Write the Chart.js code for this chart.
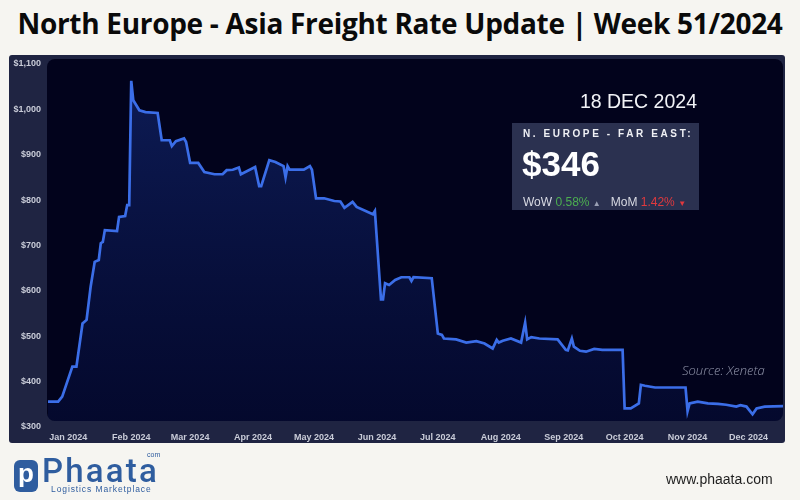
<!DOCTYPE html>
<html>
<head>
<meta charset="utf-8">
<script src="https://cdn.jsdelivr.net/npm/chart.js@4.4.1/dist/chart.umd.min.js"></script>
<style>
  html, body { margin: 0; padding: 0; }
  body { width: 800px; height: 500px; background: #f6f5f1; position: relative; overflow: hidden; font-family: 'Liberation Sans', Arial, sans-serif; }
  #title { position: absolute; left: 0; top: 4px; width: 800px; text-align: center; font-family: 'Open Sans', sans-serif; font-weight: 700; font-size: 28px; color: #0a0a0a; letter-spacing: -0.3px; white-space: nowrap; }
  #panel { position: absolute; left: 9px; top: 55px; width: 776px; height: 388px; background: #1f2442; border-radius: 3px; }
  #wrap { position: absolute; left: 0; top: 0; width: 800px; height: 500px; }
  #date { position: absolute; right: 103px; top: 90px; color: #f2f3f7; font-size: 19.5px; }
  #box { position: absolute; left: 512px; top: 123px; width: 187px; height: 87px; background: #2b3150; }
  #route { position: absolute; left: 11px; top: 5px; color: #f0f1f5; font-weight: 700; font-size: 10px; letter-spacing: 2.6px; white-space: nowrap; }
  #price { position: absolute; left: 10px; top: 21px; color: #ffffff; font-weight: 700; font-size: 35px; }
  #chg { position: absolute; left: 11px; top: 72px; font-size: 12px; color: #d8dae3; white-space: nowrap; }
  .up { color: #4caf50; } .dn { color: #e0393e; } .ar { font-size: 8px; }
  #source { position: absolute; left: 682px; top: 361px; font-family: 'Open Sans', sans-serif; font-style: italic; font-weight: 300; font-size: 13px; color: rgba(190,195,215,0.75); }
  #logo { position: absolute; left: 14px; top: 460px; width: 24px; height: 32px; background: #2f5d9f; border-radius: 6px; color: #fff; font: 700 26px 'Liberation Sans', Arial, sans-serif; text-align: center; line-height: 26px; }
  #brand { position: absolute; left: 42px; top: 451px; font-family: 'Roboto', sans-serif; font-weight: 500; font-size: 33px; color: #2f5d9f; letter-spacing: 2.2px; }
  #com { position: absolute; left: 147px; top: 451px; font-size: 7px; color: #2f5d9f; }
  #tag { position: absolute; left: 51px; top: 484px; font-size: 8.5px; color: #2f5d9f; letter-spacing: 0.9px; white-space: nowrap; }
  #www { position: absolute; left: 666px; top: 471px; font-size: 14px; color: #1e1e1e; }
</style>
</head>
<body>
<div id="title">North Europe - Asia Freight Rate Update | Week 51/2024</div>
<div id="panel"></div>
<div id="wrap"><canvas id="myChart" width="800" height="500"></canvas></div>
<div id="date">18 DEC 2024</div>
<div id="box">
  <div id="route">N. EUROPE - FAR EAST:</div>
  <div id="price">$346</div>
  <div id="chg">WoW <span class="up">0.58%</span> <span class="ar" style="color:#9aa0b4">&#9650;</span>&nbsp;&nbsp;&nbsp;MoM <span class="dn">1.42%</span> <span class="ar dn">&#9660;</span></div>
</div>
<div id="source">Source: Xeneta</div>
<div id="logo">p</div>
<div id="brand">Phaata</div>
<div id="com">com</div>
<div id="tag">Logistics Marketplace</div>
<div id="www">www.phaata.com</div>

<script>
// days counted from 1 Jan 2024 (negative = Dec 2023), rates in USD
const days = [-10, -5, -3, 2, 4, 7, 9, 11, 13, 15, 16, 17, 18, 24, 25, 28, 29, 30, 31, 32,
  35, 38, 44, 46, 50, 51, 53, 57, 58, 60, 64, 67, 72, 76, 78, 81, 84, 85, 92, 94,
  95, 99, 102, 106, 107, 108, 109, 116, 119, 120, 122, 126, 131, 134, 136, 140, 142, 150, 151, 154,
  155, 156, 158, 161, 164, 168, 169, 170, 179, 182, 184, 185, 191, 196, 201, 205, 209, 211, 212, 214,
  218, 223, 225, 226, 228, 232, 241, 245, 246, 248, 249, 252, 255, 259, 263, 273, 274, 277, 281, 282,
  284, 289, 304, 305, 306, 310, 315, 320, 324, 329, 331, 334, 337, 339, 343, 352];
const rates = [356, 356, 367, 433, 433, 528, 536, 609, 664, 668, 705, 708, 734, 732, 763, 765, 789, 789, 1063, 1020,
  998, 994, 992, 932, 932, 919, 930, 936, 928, 882, 882, 862, 857, 857, 866, 867, 872, 857, 873, 831,
  831, 888, 884, 875, 850, 875, 867, 867, 875, 867, 804, 804, 798, 797, 783, 796, 785, 769, 776, 581,
  581, 617, 613, 624, 630, 630, 622, 630, 628, 506, 503, 495, 493, 486, 489, 484, 473, 492, 486, 490,
  495, 486, 530, 493, 498, 495, 493, 470, 469, 495, 477, 468, 466, 472, 470, 470, 341, 341, 352, 393,
  391, 387, 387, 335, 352, 356, 352, 351, 349, 345, 348, 345, 328, 341, 345, 346];

const monthStarts = [0, 31, 60, 91, 121, 152, 182, 213, 244, 274, 305, 335];
const monthLabels = ['Jan 2024', 'Feb 2024', 'Mar 2024', 'Apr 2024', 'May 2024', 'Jun 2024',
  'Jul 2024', 'Aug 2024', 'Sep 2024', 'Oct 2024', 'Nov 2024', 'Dec 2024'];
const yTicks = [300, 400, 500, 600, 700, 800, 900, 1000, 1100];

// dark plot background + clip the line/fill to it
function plotRect(a) {
  return { x: a.left - 1, y: a.top - 5, w: a.right - a.left + 1, h: a.bottom - a.top - 1 };
}
const plotBox = {
  id: 'plotBox',
  beforeDraw(chart) {
    const r = plotRect(chart.chartArea), ctx = chart.ctx;
    ctx.save();
    ctx.fillStyle = '#02031c';
    ctx.beginPath();
    ctx.roundRect(r.x, r.y, r.w, r.h, 8);
    ctx.fill();
    ctx.restore();
  },
  beforeDatasetsDraw(chart) {
    const r = plotRect(chart.chartArea), ctx = chart.ctx;
    ctx.save();
    ctx.beginPath();
    ctx.roundRect(r.x, r.y, r.w, r.h, 8);
    ctx.clip();
  },
  afterDatasetsDraw(chart) {
    chart.ctx.restore();
  }
};

const tickFont = { family: "'Liberation Sans', Arial, sans-serif", size: 9, weight: 'bold' };

const ctx = document.getElementById('myChart').getContext('2d');
const myChart = new Chart(ctx, {
  type: 'line',
  data: {
    datasets: [{
      data: days.map((d, i) => ({ x: d, y: rates[i] })),
      borderColor: '#3b6ee8',
      borderWidth: 2.7,
      pointRadius: 0,
      tension: 0,
      fill: 'start',
      backgroundColor: function (c) {
        const a = c.chart.chartArea;
        if (!a) return 'rgba(20,45,130,0.4)';
        const g = c.chart.ctx.createLinearGradient(0, a.top, 0, a.bottom);
        g.addColorStop(0, 'rgba(28,60,160,0.45)');
        g.addColorStop(1, 'rgba(10,25,95,0.25)');
        return g;
      }
    }]
  },
  options: {
    responsive: false,
    animation: false,
    layout: { padding: { left: 0, right: 17, top: 64, bottom: 0 } },
    plugins: { legend: { display: false }, tooltip: { enabled: false } },
    scales: {
      x: {
        type: 'linear',
        min: -10,
        max: 352,
        grid: { display: false, drawTicks: false },
        border: { display: false },
        afterBuildTicks: axis => { axis.ticks = monthStarts.map(v => ({ value: v })); },
        afterFit: axis => { axis.height = 73; },
        ticks: {
          autoSkip: false,
          maxRotation: 0,
          padding: 5,
          color: '#c9ccd8',
          font: tickFont,
          callback: v => monthLabels[monthStarts.indexOf(v)]
        }
      },
      y: {
        min: 300,
        max: 1100,
        grid: { display: false, drawTicks: false },
        border: { display: false },
        afterBuildTicks: axis => { axis.ticks = yTicks.map(v => ({ value: v })); },
        afterFit: axis => { axis.width = 48; },
        ticks: {
          padding: 7,
          color: '#c9ccd8',
          font: tickFont,
          callback: v => '$' + v.toLocaleString('en-US')
        }
      }
    }
  },
  plugins: [plotBox]
});
</script>
</body>
</html>
